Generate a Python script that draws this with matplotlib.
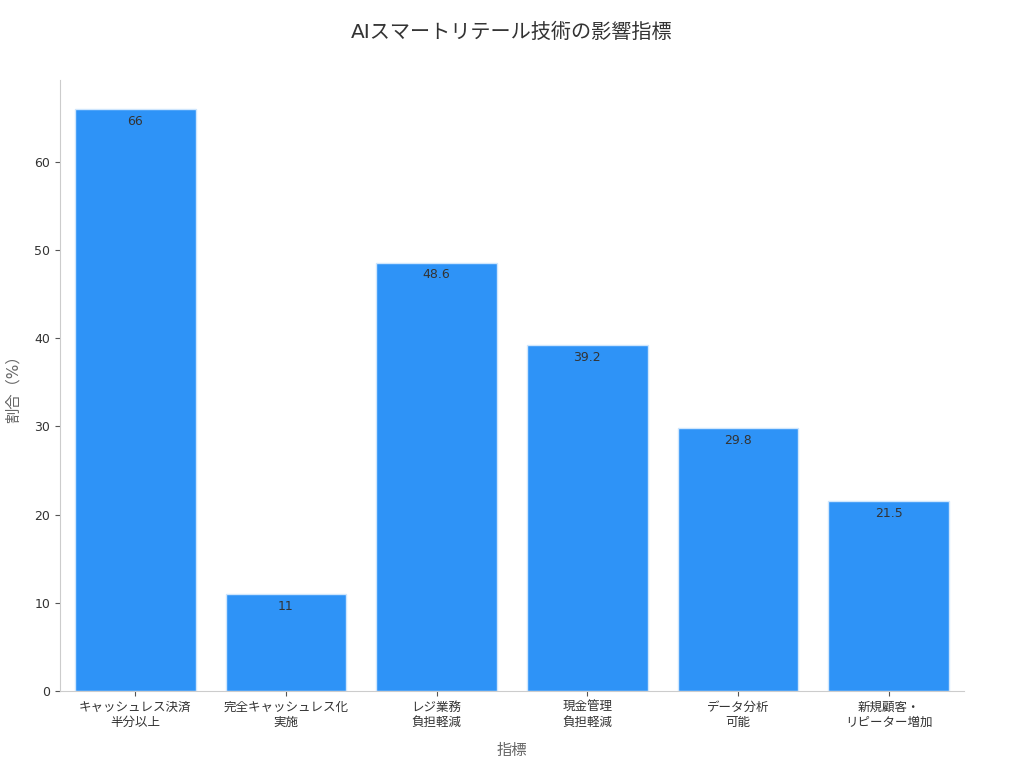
import matplotlib
matplotlib.use('Agg')
import matplotlib.pyplot as plt

# data
categories = ['キャッシュレス決済\n半分以上', '完全キャッシュレス化\n実施', 'レジ業務\n負担軽減',
              '現金管理\n負担軽減', 'データ分析\n可能', '新規顧客・\nリピーター増加']
values = [66, 11, 48.6, 39.2, 29.8, 21.5]
value_labels = ['66', '11', '48.6', '39.2', '29.8', '21.5']

plt.rcParams['font.family'] = ['DejaVu Sans', 'Noto Sans CJK JP']

fig = plt.figure(figsize=(10.24, 7.68), dpi=100)
ax = fig.add_axes([0.0586, 0.1003, 0.8828, 0.7955])

x = range(len(categories))
bars = ax.bar(x, values, width=0.8, color='#2e93f7', edgecolor='#cfe6fd', linewidth=1)

# value labels just inside the top of each bar
for xi, v, lab in zip(x, values, value_labels):
    ax.annotate(lab, (xi, v), xytext=(0, -4), textcoords='offset points',
                ha='center', va='top', fontsize=9, color='#333333')

ax.set_xlim(-0.5, 5.5)
ax.set_ylim(0, 69.3)
ax.set_yticks([0, 10, 20, 30, 40, 50, 60])
ax.set_xticks(list(x))
ax.set_xticklabels(categories, fontsize=9, color='#333333')
ax.tick_params(axis='y', labelsize=9, labelcolor='#333333', color='#555555')
ax.tick_params(axis='x', color='#555555')

for side in ['top', 'right']:
    ax.spines[side].set_visible(False)
for side in ['left', 'bottom']:
    ax.spines[side].set_color('#cccccc')

ax.set_xlabel('指標', fontsize=11, color='#666666', labelpad=10)
ax.set_ylabel('割合（%）', fontsize=11, color='#666666', labelpad=10)
fig.suptitle('AIスマートリテール技術の影響指標', fontsize=14.5, color='#333333', y=0.97)

fig.savefig('out.png', dpi=100)
